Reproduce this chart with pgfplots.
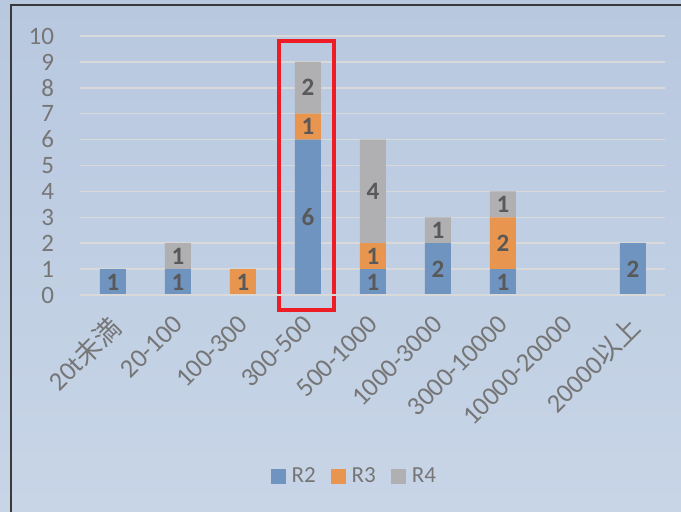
\documentclass[border=0pt]{standalone}
\usepackage{fontspec}
\setmainfont{Carlito}
\newfontfamily\cjk{Noto Sans CJK JP}
\usepackage{pgfplots}
\usepackage{pgfplotstable}
\pgfplotsset{compat=1.18}

\definecolor{bgtop}{HTML}{B8C8DF}
\definecolor{bgbot}{HTML}{C8D5E7}
\definecolor{frame}{HTML}{3A3A3A}
\definecolor{gridc}{HTML}{D9D9D9}
\definecolor{tickc}{HTML}{767676}
\definecolor{labc}{HTML}{595959}
\definecolor{cR2}{HTML}{6F94C0}
\definecolor{cR3}{HTML}{E8964F}
\definecolor{cR4}{HTML}{B0B0B2}
\definecolor{boxred}{HTML}{EE1C25}

% x = category index, values per series
\pgfplotstableread{
x R2 R3 R4
0 1 0 0
1 1 0 1
2 0 1 0
3 6 1 2
4 1 1 4
5 2 0 1
6 1 2 1
7 0 0 0
8 2 0 0
}\counts

% value labels in the segments, zeros left out
\pgfplotsset{
  seglabel/.style={
    point meta=\thisrow{#1},
    nodes near coords={\pgfmathfloatifflags{\pgfplotspointmeta}{0}{}{\pgfmathprintnumber{\pgfplotspointmeta}}},
    every node near coord/.append style={anchor=center,
      font=\fontsize{25}{30}\selectfont\bfseries, text=labc}
  }
}

\begin{document}
\begin{tikzpicture}
\useasboundingbox (0,0) rectangle (681pt,512pt);
\shade[top color=bgtop, bottom color=bgbot] (0,0) rectangle (681pt,512pt);
\draw[frame, line width=2pt] (11pt,0) -- (11pt,507pt) -- (681pt,507pt);

\begin{axis}[
    at={(80.5pt,217pt)}, anchor=south west,
    scale only axis,
    width=585pt, height=259pt,
    xmin=-0.5, xmax=8.5,
    ymin=0, ymax=10,
    axis line style={draw=none},
    tick style={draw=none},
    clip=false,
    ybar stacked,
    bar width=26pt,
    ytick={0,1,...,10},
    ymajorgrids,
    grid style={gridc, line width=1.5pt},
    major tick length=0pt,
    xtick=data,
    xticklabels={20t{\cjk 未満}, 20-100, 100-300, 300-500, 500-1000,
      1000-3000, 3000-10000, 10000-20000, 20000{\cjk 以上}},
    /pgf/number format/assume math mode=true,
    yticklabel style={font=\fontsize{25}{30}\selectfont, text=tickc,
      anchor=east, xshift=-23pt},
    xticklabel style={font=\fontsize{26.5}{31}\selectfont, text=tickc,
      xshift=-6pt, yshift=-14pt, rotate=45, anchor=north east},
    legend columns=3,
    legend style={at={(0.468,-0.699)}, anchor=center, draw=none, fill=none,
      font=\fontsize{23}{26}\selectfont, text=tickc,
      /tikz/every odd column/.append style={column sep=4pt},
      /tikz/every even column/.append style={column sep=13pt}},
    legend image code/.code={\fill[#1] (0pt,-7.5pt) rectangle (15pt,7.5pt);},
]
\draw[gridc, line width=1.5pt] (axis cs:-0.5,0) -- (axis cs:8.5,0);
\addplot[fill=cR2, draw=none, seglabel=R2] table[x=x, y=R2] {\counts};
\addplot[fill=cR3, draw=none, seglabel=R3] table[x=x, y=R3] {\counts};
\addplot[fill=cR4, draw=none, seglabel=R4] table[x=x, y=R4] {\counts};
\legend{R2, R3, R4}
\draw[boxred, line width=3.5pt] (axis cs:2.554,-0.579) rectangle (axis cs:3.40,9.807);
\end{axis}
\end{tikzpicture}
\end{document}
